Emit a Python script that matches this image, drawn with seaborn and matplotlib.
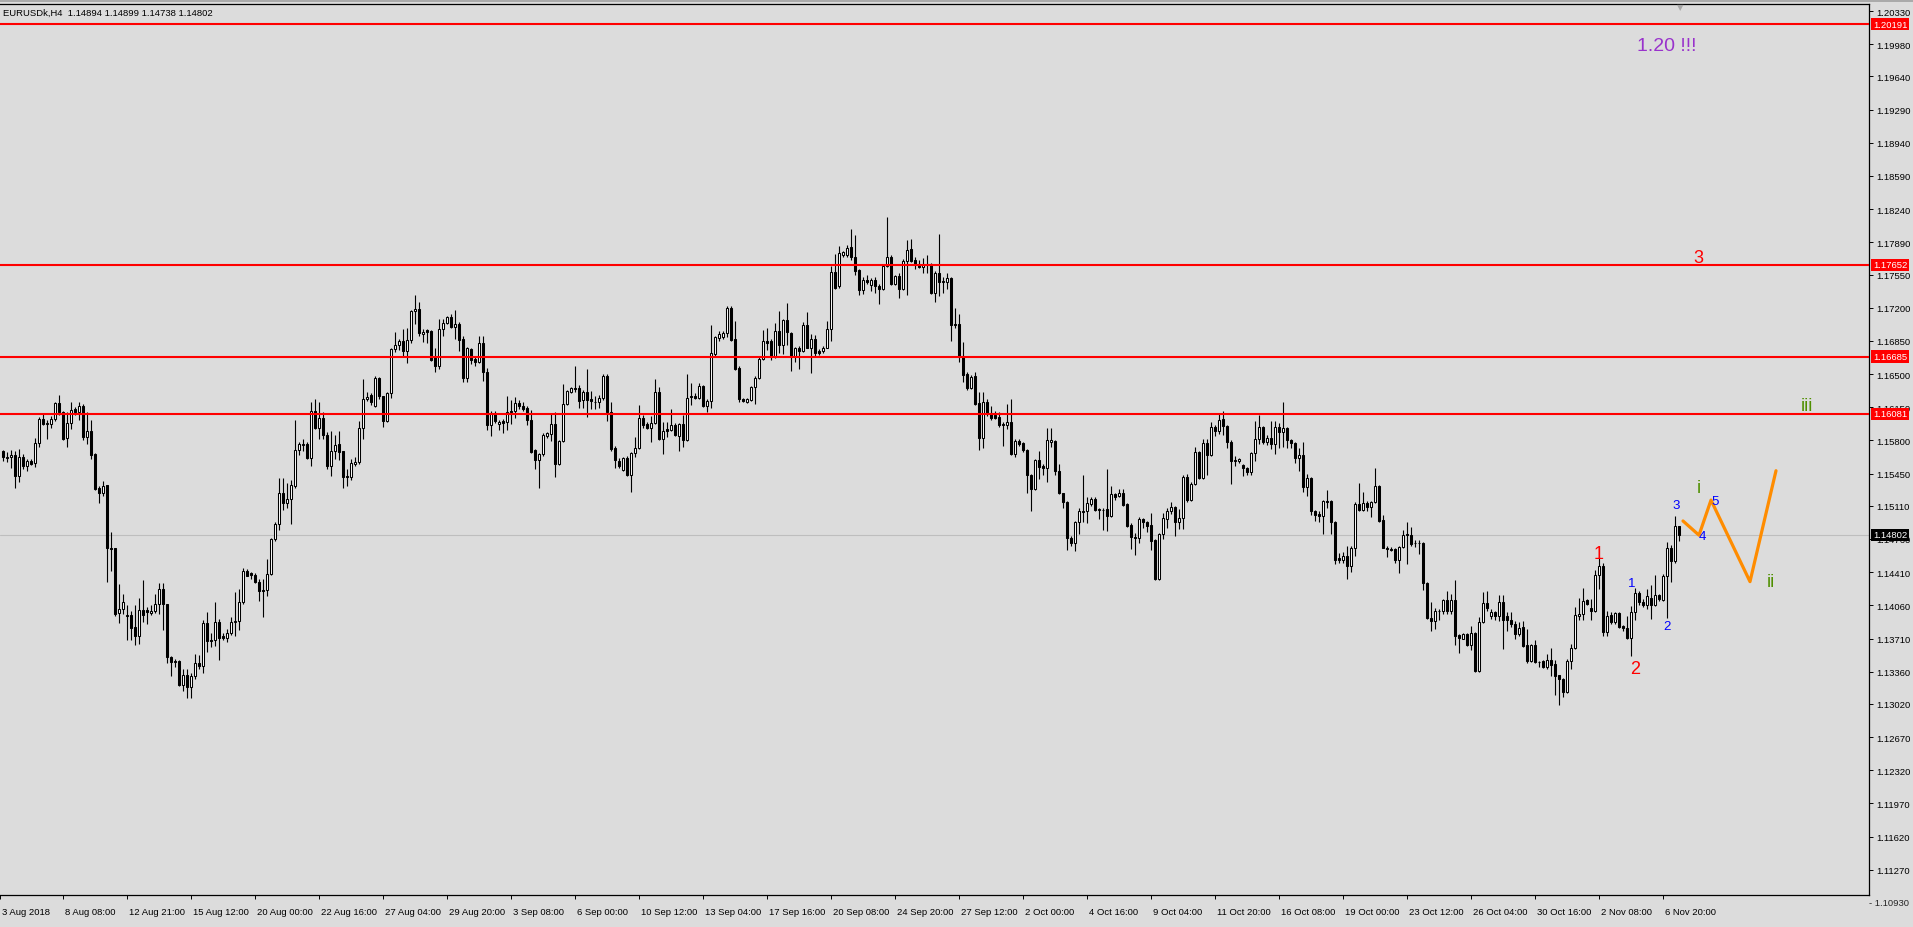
import numpy as np
import pandas as pd
import matplotlib
matplotlib.use("Agg")
import matplotlib.pyplot as plt
import matplotlib.transforms as mtransforms
from matplotlib.lines import Line2D
import seaborn as sns

sns.set_theme(style="white")
plt.rcParams['font.family'] = ['Liberation Sans', 'DejaVu Sans']

header = "EURUSDk,H4  1.14894 1.14899 1.14738 1.14802"

# H4 candles, in pips above 1.1000
opens = [
    569, 561, 563, 565, 542, 563, 553, 558, 556, 577,
    603, 597, 597, 603, 619, 610, 583, 598, 613, 610,
    616, 584, 590, 566, 530, 524, 533, 466, 466, 398,
    402, 395, 396, 383, 374, 401, 401, 398, 400, 407,
    423, 407, 352, 347, 347, 322, 333, 320, 331, 345,
    342, 387, 369, 369, 388, 374, 372, 377, 388, 389,
    409, 442, 440, 438, 431, 422, 422, 439, 476, 492,
    525, 514, 518, 532, 570, 575, 576, 561, 611, 593,
    604, 586, 553, 569, 576, 569, 542, 541, 555, 557,
    593, 624, 628, 616, 646, 627, 600, 630, 676, 681,
    685, 674, 686, 716, 719, 692, 696, 695, 668, 658,
    698, 704, 710, 700, 703, 687, 646, 676, 666, 663,
    683, 652, 596, 609, 597, 600, 599, 611, 611, 619,
    616, 614, 602, 570, 559, 566, 585, 587, 597, 555,
    579, 618, 631, 635, 635, 623, 631, 624, 620, 620,
    625, 648, 610, 572, 558, 549, 561, 544, 567, 572,
    604, 597, 593, 598, 631, 581, 592, 591, 596, 585,
    597, 580, 627, 627, 625, 637, 616, 622, 671, 688,
    689, 693, 720, 687, 656, 624, 620, 623, 636, 646,
    666, 685, 685, 669, 695, 681, 707, 693, 669, 678,
    674, 702, 678, 687, 674, 674, 678, 697, 758, 743,
    776, 776, 784, 773, 760, 739, 749, 744, 749, 743,
    740, 764, 773, 745, 753, 740, 769, 782, 770, 766,
    763, 766, 766, 736, 757, 747, 747, 751, 703, 703,
    669, 650, 635, 648, 619, 583, 621, 609, 607, 605,
    597, 596, 599, 566, 579, 577, 570, 544, 529, 559,
    553, 551, 578, 579, 548, 524, 515, 477, 472, 494,
    505, 505, 513, 518, 507, 507, 508, 500, 523, 521,
    524, 513, 491, 478, 477, 497, 494, 491, 475, 434,
    481, 497, 505, 510, 494, 498, 541, 517, 534, 568,
    540, 577, 565, 594, 590, 603, 595, 578, 558, 558,
    554, 551, 547, 567, 581, 594, 578, 583, 576, 594,
    589, 593, 580, 577, 561, 565, 531, 540, 506, 502,
    500, 516, 516, 494, 456, 454, 458, 447, 466, 513,
    507, 514, 510, 515, 532, 496, 467, 465, 465, 454,
    468, 481, 480, 472, 472, 472, 430, 393, 389, 400,
    400, 412, 400, 412, 375, 371, 376, 364, 377, 337,
    388, 408, 395, 399, 395, 409, 395, 390, 386, 376,
    383, 364, 347, 364, 346, 347, 341, 348, 344, 332,
    328, 315, 347, 361, 395, 397, 412, 403, 400, 438,
    447, 378, 396, 388, 398, 384, 382, 372, 399, 419,
    410, 406, 414, 406, 417, 412, 437, 466, 453, 489.4,
]
highs = [
    570, 568, 570, 569, 571, 566, 560, 560, 583, 605,
    608, 601, 606, 621, 628, 611, 610, 620, 615, 620,
    618, 610, 601, 567, 532, 537, 533, 483, 466, 428,
    418, 406, 400, 406, 414, 433, 404, 406, 418, 430,
    430, 407, 353, 349, 348, 339, 339, 335, 355, 354,
    391, 399, 377, 409, 392, 377, 381, 394, 420, 423,
    445, 444, 441, 440, 434, 434, 455, 477, 494, 540,
    540, 535, 538, 601, 578, 582, 578, 620, 624, 620,
    610, 589, 590, 586, 590, 569, 550, 560, 563, 600,
    645, 631, 630, 648, 647, 627, 631, 677, 694, 687,
    697, 699, 718, 733, 726, 697, 697, 696, 678, 708,
    708, 711, 713, 718, 705, 690, 679, 678, 669, 690,
    690, 656, 611, 611, 602, 603, 627, 623, 626, 623,
    620, 616, 612, 571, 567, 588, 589, 609, 610, 580,
    639, 633, 636, 658, 638, 633, 655, 632, 627, 628,
    650, 650, 620, 574, 561, 562, 564, 568, 584, 617,
    607, 599, 606, 645, 636, 599, 599, 613, 598, 598,
    607, 650, 641, 630, 641, 638, 624, 702, 690, 695,
    695, 722, 722, 706, 658, 625, 625, 637, 648, 668,
    696, 699, 687, 704, 717, 708, 725, 694, 679, 680,
    705, 715, 692, 691, 676, 680, 706, 764, 777, 785,
    780, 786, 803, 797, 761, 752, 754, 751, 752, 745,
    766, 816, 776, 754, 757, 771, 791, 792, 773, 770,
    772, 776, 767, 759, 798, 752, 757, 752, 720, 713,
    684, 652, 649, 652, 631, 631, 624, 616, 611, 610,
    599, 618, 624, 581, 581, 578, 571, 545, 560, 569,
    555, 593, 593, 580, 555, 525, 516, 479, 495, 509,
    543, 520, 520, 520, 509, 509, 550, 532, 525, 529,
    529, 514, 493, 482, 499, 498, 495, 503, 476, 482,
    503, 509, 515, 511, 508, 543, 545, 536, 573, 569,
    582, 582, 599, 596, 608, 611, 596, 580, 564, 561,
    555, 552, 568, 600, 607, 595, 586, 600, 600, 598,
    621, 594, 581, 578, 572, 578, 545, 541, 507, 506,
    517, 528, 517, 495, 461, 462, 469, 469, 515, 535,
    526, 516, 516, 551, 533, 501, 469, 468, 467, 469,
    486, 494, 489, 475, 475, 473, 431, 410, 403, 402,
    413, 421, 418, 433, 376, 377, 377, 384, 378, 394,
    420, 421, 402, 400, 417, 417, 399, 399, 389, 388,
    389, 381, 365, 369, 347, 348, 355, 361, 348, 333,
    329, 349, 365, 404, 414, 424, 413, 413, 443, 457,
    451, 400, 399, 399, 399, 385, 395, 405, 424, 421,
    413, 423, 427, 438, 418, 439, 473, 470, 500, 489.9,
]
lows = [
    558, 557, 551, 530, 536, 550, 548, 554, 552, 573,
    596, 582, 593, 600, 607, 580, 573, 592, 607, 601,
    580, 576, 560, 528, 514, 521, 431, 442, 395, 387,
    397, 369, 369, 364, 365, 388, 386, 396, 398, 397,
    380, 345, 331, 341, 321, 316, 308, 308, 328, 339,
    335, 357, 362, 363, 348, 369, 367, 375, 374, 380,
    407, 437, 434, 430, 411, 394, 416, 438, 474, 485,
    507, 509, 492, 530, 565, 569, 560, 553, 592, 581,
    582, 550, 542, 560, 559, 530, 532, 538, 553, 555,
    582, 622, 617, 615, 624, 594, 599, 625, 673, 675,
    669, 662, 683, 703, 690, 684, 683, 664, 652, 655,
    690, 703, 699, 687, 674, 642, 642, 661, 659, 662,
    643, 591, 585, 598, 591, 588, 591, 597, 604, 613,
    611, 596, 567, 550, 530, 564, 583, 579, 541, 554,
    578, 617, 630, 631, 614, 614, 605, 613, 613, 614,
    623, 600, 569, 551, 551, 548, 542, 526, 562, 571,
    593, 592, 578, 597, 580, 566, 584, 590, 585, 569,
    573, 579, 617, 624, 624, 615, 610, 614, 669, 685,
    687, 689, 685, 654, 621, 621, 619, 622, 618, 645,
    665, 675, 665, 667, 672, 671, 681, 653, 663, 655,
    673, 677, 651, 669, 670, 672, 677, 685, 740, 741,
    773, 774, 770, 755, 733, 734, 745, 738, 736, 724,
    739, 763, 744, 744, 730, 739, 733, 768, 761, 762,
    757, 757, 734, 726, 732, 736, 740, 685, 699, 663,
    642, 633, 634, 617, 570, 572, 606, 601, 603, 594,
    574, 592, 565, 563, 574, 568, 525, 505, 528, 539,
    544, 536, 573, 543, 523, 509, 464, 469, 463, 481,
    494, 493, 511, 505, 497, 486, 484, 499, 517, 520,
    511, 489, 465, 459, 472, 488, 483, 464, 433, 433,
    476, 488, 502, 479, 487, 487, 515, 516, 533, 539,
    539, 543, 564, 585, 587, 586, 572, 534, 553, 556,
    542, 544, 543, 558, 576, 576, 575, 571, 566, 572,
    573, 572, 572, 556, 548, 526, 521, 501, 495, 494,
    481, 509, 481, 450, 451, 451, 434, 441, 458, 506,
    505, 505, 499, 514, 494, 466, 457, 463, 451, 440,
    467, 450, 469, 468, 460, 422, 392, 379, 381, 390,
    397, 397, 397, 364, 356, 370, 363, 359, 336, 336,
    387, 400, 392, 390, 389, 360, 379, 383, 370, 374,
    362, 345, 346, 345, 341, 340, 339, 331, 311, 301,
    309, 313, 339, 360, 390, 390, 406, 390, 399, 423,
    374, 374, 386, 386, 382, 379, 371, 353, 390, 406,
    404, 402, 392, 405, 411, 411, 393, 431, 451, 473.8,
]
closes = [
    562, 563, 565, 542, 563, 553, 558, 555, 577, 603,
    597, 598, 603, 619, 610, 582, 598, 612, 610, 616,
    584, 590, 565, 529, 524, 532, 466, 465, 397, 402,
    409, 396, 382, 374, 401, 396, 399, 400, 407, 423,
    407, 351, 346, 346, 322, 332, 320, 331, 345, 342,
    387, 368, 368, 388, 372, 372, 377, 388, 389, 409,
    442, 437, 438, 431, 421, 421, 439, 476, 492, 525,
    514, 518, 533, 570, 576, 576, 561, 611, 593, 604,
    586, 553, 569, 575, 568, 541, 541, 556, 557, 593,
    624, 626, 620, 646, 627, 600, 630, 676, 681, 685,
    674, 686, 716, 719, 693, 694, 694, 665, 658, 698,
    704, 710, 700, 703, 686, 646, 677, 665, 663, 683,
    652, 596, 609, 600, 599, 598, 610, 610, 619, 616,
    613, 601, 568, 559, 566, 586, 588, 597, 555, 579,
    618, 632, 635, 634, 622, 631, 623, 622, 621, 625,
    648, 610, 571, 559, 553, 561, 544, 567, 572, 604,
    596, 593, 598, 631, 581, 590, 590, 596, 586, 597,
    580, 625, 626, 625, 637, 616, 622, 672, 689, 692,
    693, 720, 686, 655, 624, 622, 624, 636, 646, 666,
    685, 683, 669, 695, 681, 707, 694, 669, 678, 674,
    702, 678, 687, 672, 672, 678, 697, 758, 741, 778,
    779, 783, 773, 759, 739, 749, 747, 749, 743, 740,
    764, 773, 745, 753, 740, 769, 781, 769, 766, 763,
    766, 765, 736, 757, 747, 748, 751, 702, 702, 669,
    649, 635, 647, 618, 583, 621, 609, 604, 604, 596,
    596, 599, 566, 579, 576, 570, 544, 529, 559, 552,
    551, 580, 580, 548, 524, 515, 477, 472, 494, 505,
    504, 514, 518, 507, 508, 507, 500, 523, 520, 524,
    512, 490, 478, 477, 497, 494, 490, 474, 434, 481,
    498, 505, 510, 494, 498, 541, 517, 534, 568, 540,
    577, 565, 594, 590, 602, 595, 578, 558, 559, 560,
    551, 547, 567, 581, 594, 578, 583, 576, 594, 589,
    593, 580, 577, 561, 565, 531, 540, 506, 501, 500,
    516, 515, 494, 454, 454, 458, 447, 466, 513, 507,
    514, 510, 515, 532, 495, 467, 465, 464, 454, 468,
    480, 480, 471, 472, 472, 430, 393, 389, 400, 400,
    412, 400, 412, 374, 372, 376, 364, 377, 337, 388,
    408, 403, 399, 395, 409, 390, 390, 386, 376, 382,
    363, 347, 364, 346, 346, 341, 348, 343, 331, 328,
    315, 347, 361, 396, 397, 411, 407, 400, 438, 447,
    378, 395, 388, 398, 383, 382, 372, 399, 419, 409,
    406, 416, 406, 417, 413, 437, 466, 453, 490, 480.2,
]

level_prices = [1.20191, 1.17652, 1.16685, 1.16081]
last_price = 1.14802

y_ticks = [1.20330, 1.19980, 1.19640, 1.19290, 1.18940, 1.18590, 1.18240,
           1.17890, 1.17550, 1.17200, 1.16850, 1.16500, 1.16150, 1.15800,
           1.15450, 1.15110, 1.14760, 1.14410, 1.14060, 1.13710, 1.13360,
           1.13020, 1.12670, 1.12320, 1.11970, 1.11620, 1.11270]
y_bottom_label = 1.10930

x_labels = ["3 Aug 2018", "8 Aug 08:00", "12 Aug 21:00", "15 Aug 12:00",
            "20 Aug 00:00", "22 Aug 16:00", "27 Aug 04:00", "29 Aug 20:00",
            "3 Sep 08:00", "6 Sep 00:00", "10 Sep 12:00", "13 Sep 04:00",
            "17 Sep 16:00", "20 Sep 08:00", "24 Sep 20:00", "27 Sep 12:00",
            "2 Oct 00:00", "4 Oct 16:00", "9 Oct 04:00", "11 Oct 20:00",
            "16 Oct 08:00", "19 Oct 00:00", "23 Oct 12:00", "26 Oct 04:00",
            "30 Oct 16:00", "2 Nov 08:00", "6 Nov 20:00"]

# projected path (orange) : bar index, price
proj_bars = [420, 424, 427, 436.75, 443.25]
proj_prices = [1.1495, 1.1480, 1.1517, 1.1431, 1.1548]

# wave labels: text, bar, price, colour, size
wave_labels = [
    ("1", 399, 1.14612, "#FF0000", 13),
    ("2", 408, 1.13396, "#FF0000", 13),
    ("3", 423.75, 1.17728, "#FF0000", 13),
    ("1", 407.2, 1.14295, "#0000FF", 9.5),
    ("2", 416.1, 1.13838, "#0000FF", 9.5),
    ("3", 418.2, 1.15118, "#0000FF", 9.5),
    ("4", 424.9, 1.14788, "#0000FF", 9.5),
    ("5", 428.1, 1.15160, "#0000FF", 9.5),
    ("i", 423.9, 1.15305, "#4F8F00", 13),
    ("ii", 441.9, 1.14310, "#4F8F00", 13),
    ("iii", 451.0, 1.16173, "#4F8F00", 13),
    ("1.20 !!!", 416.0, 1.19967, "#9932CC", 14),
]

df = pd.DataFrame({"open": opens, "high": highs, "low": lows, "close": closes})
df = 1.1 + df / 10000.0
df["bar"] = np.arange(len(df))
df["up"] = df["close"] >= df["open"]
df["body_lo"] = df[["open", "close"]].min(axis=1)
df["body_hi"] = df[["open", "close"]].max(axis=1)

bg = "#DCDCDC"
W, H = 1913, 928
fig = plt.figure(figsize=(W / 100, H / 100), dpi=100, facecolor=bg)
ax = fig.add_axes([0, (H - 896) / H, 1869 / W, 891 / H])
ax.set_facecolor(bg)

ax.set_xlim(-0.75, 466.5)
ax.set_ylim(1.11004, 1.20404)

# current price line and levels
ax.axhline(last_price, color="#BEBEBE", linewidth=0.8, zorder=1)
for p in level_prices:
    ax.axhline(p, color="#FF0000", linewidth=1.5, zorder=4)

# candles
ax.vlines(df["bar"], np.minimum(df["low"], df["body_lo"]), np.maximum(df["high"], df["body_hi"]),
          color="black", linewidth=0.8, zorder=2)
ax.bar(df["bar"], df["body_hi"] - df["body_lo"], bottom=df["body_lo"], width=0.55,
       color=np.where(df["up"], "white", "black"), edgecolor="black", linewidth=0.75, zorder=3)

sns.lineplot(x=proj_bars, y=proj_prices, color="#FF8C00", linewidth=2.3, sort=False,
             ax=ax, zorder=5)

for txt, b, p, c, s in wave_labels:
    ax.text(b, p, txt, color=c, fontsize=s, ha="center", va="center", zorder=6)

# axes styling
for side in ["left"]:
    ax.spines[side].set_visible(False)
for side in ["top", "right", "bottom"]:
    ax.spines[side].set_color("black")
    ax.spines[side].set_linewidth(0.9)

ax.yaxis.tick_right()
ax.set_yticks(y_ticks)
ax.set_yticklabels([f"{v:.5f}" for v in y_ticks])
ax.tick_params(axis="y", which="both", right=True, left=False, length=3, width=0.7,
               pad=2, labelsize=6.8, colors="black", direction="out")

x_pos = [-0.75] + [15 + 16 * k for k in range(26)]
ax.set_xticks(x_pos)
ax.set_xticklabels(x_labels)
ax.tick_params(axis="x", which="both", bottom=True, top=False, length=3, width=0.7,
               pad=6, labelsize=6.8, colors="black", direction="out")
shift = mtransforms.ScaledTranslation(2 / 100, 0, fig.dpi_scale_trans)
for lab in ax.get_xticklabels():
    lab.set_horizontalalignment("left")
    lab.set_transform(lab.get_transform() + shift)
ax.set_xlabel("")
ax.set_ylabel("")
ax.grid(False)

# bottom-most price label sits below the frame
ax.text(1.0, y_bottom_label, "- " + f"{y_bottom_label:.5f}", transform=mtransforms.blended_transform_factory(
    ax.transAxes, ax.transData), fontsize=6.8, ha="left", va="center", clip_on=False)

# price boxes on the right scale
tr = mtransforms.blended_transform_factory(fig.transFigure, ax.transData)
for p in level_prices:
    ax.text(1873 / W, p, f"{p:.5f}", transform=tr, fontsize=6.8, color="white", ha="left",
            va="center", zorder=10, clip_on=False,
            bbox=dict(boxstyle="square,pad=0.18", fc="#FF0000", ec="none"))
ax.text(1873 / W, last_price, f"{last_price:.5f}", transform=tr, fontsize=6.8, color="white",
        ha="left", va="center", zorder=10, clip_on=False,
        bbox=dict(boxstyle="square,pad=0.18", fc="black", ec="none"))

# header and chart-shift marker
fig.text(3 / W, 1 - 13 / H, header, fontsize=6.8, ha="left", va="center", color="black")
fig.text(1680 / W, 1 - 8 / H, "\u25BC", fontsize=6, ha="center", va="center", color="#A8A8A8",
         family="DejaVu Sans")
fig.add_artist(Line2D([0, 1], [1 - 1.5 / H, 1 - 1.5 / H], transform=fig.transFigure,
                      color="#A0A0A0", linewidth=1.2))

fig.savefig("out.png", dpi=100, facecolor=bg)
